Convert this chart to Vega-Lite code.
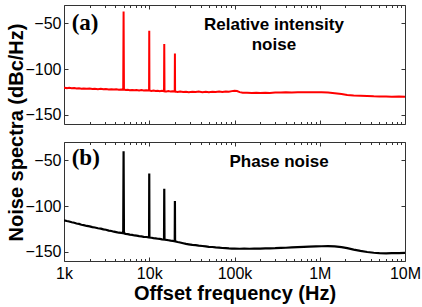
{
  "$schema": "https://vega.github.io/schema/vega-lite/v6.json",
  "padding": {"left": 5, "top": 4, "right": 0, "bottom": 0},
  "config": {
    "view": {"stroke": "#333", "strokeWidth": 1},
    "axis": {"domain": false, "grid": false, "labelFont": "Liberation Sans", "labelFontSize": 16, "labelColor": "#000", "titleFont": "Liberation Sans", "titleFontWeight": "bold", "titleFontSize": 20, "titleColor": "#000", "tickColor": "#333", "tickWidth": 1}
  },
  "datasets": {
    "rin": [
      {"f":1000,"v":-120.5},{"f":1080,"v":-120.8},{"f":1150,"v":-120.3},{"f":1230,"v":-121},{"f":1320,"v":-120.6},{"f":1400,"v":-121.2},{"f":1500,"v":-120.9},{"f":1600,"v":-121.4},{"f":1700,"v":-121.1},{"f":1850,"v":-121.6},{"f":2000,"v":-121.3},{"f":2150,"v":-121.8},{"f":2300,"v":-121.5},{"f":2500,"v":-121.9},{"f":2700,"v":-121.6},{"f":2900,"v":-122.1},{"f":3100,"v":-121.8},{"f":3350,"v":-122.3},{"f":3600,"v":-122},{"f":3850,"v":-122.4},{"f":4100,"v":-122.1},{"f":4400,"v":-122.6},{"f":4700,"v":-122.2},{"f":4950,"v":-122.5},{"f":5000,"v":-37},{"f":5050,"v":-122.4},{"f":5300,"v":-122.9},{"f":5600,"v":-122.5},{"f":5900,"v":-123.1},{"f":6300,"v":-122.8},{"f":6700,"v":-123.2},{"f":7100,"v":-122.9},{"f":7600,"v":-123.4},{"f":8100,"v":-123},{"f":8600,"v":-123.5},{"f":9200,"v":-123.1},{"f":9950,"v":-123.4},{"f":10000,"v":-58},{"f":10050,"v":-123.4},{"f":10600,"v":-123.8},{"f":11200,"v":-123.4},{"f":11900,"v":-124},{"f":12600,"v":-123.6},{"f":13300,"v":-124.1},{"f":14100,"v":-123.8},{"f":14900,"v":-124.2},{"f":15000,"v":-72.5},{"f":15100,"v":-124.1},{"f":15900,"v":-124.4},{"f":16800,"v":-124},{"f":17800,"v":-124.6},{"f":18800,"v":-124.2},{"f":19900,"v":-124.5},{"f":20000,"v":-83},{"f":20100,"v":-124.5},{"f":21500,"v":-124.9},{"f":23000,"v":-124.5},{"f":25000,"v":-125.1},{"f":27000,"v":-124.7},{"f":29000,"v":-125.2},{"f":32000,"v":-124.8},{"f":35000,"v":-125.1},{"f":38000,"v":-124.6},{"f":42000,"v":-125.2},{"f":46000,"v":-124.7},{"f":50000,"v":-125.3},{"f":55000,"v":-124.8},{"f":60000,"v":-125.1},{"f":66000,"v":-124.6},{"f":72000,"v":-125},{"f":79000,"v":-124.4},{"f":86000,"v":-124.8},{"f":93000,"v":-124.1},{"f":100000,"v":-123.6},{"f":107000,"v":-124},{"f":115000,"v":-125.2},{"f":125000,"v":-125.8},{"f":140000,"v":-125.9},{"f":160000,"v":-126.2},{"f":180000,"v":-125.9},{"f":200000,"v":-126.1},{"f":230000,"v":-125.8},{"f":260000,"v":-126.1},{"f":300000,"v":-125.7},{"f":350000,"v":-125.6},{"f":400000,"v":-125.4},{"f":470000,"v":-125.5},{"f":550000,"v":-125.3},{"f":650000,"v":-125.4},{"f":750000,"v":-125.2},{"f":900000,"v":-125.4},{"f":1050000,"v":-125.3},{"f":1250000,"v":-125.7},{"f":1500000,"v":-126.4},{"f":1800000,"v":-127.3},{"f":2100000,"v":-128.2},{"f":2500000,"v":-128.8},{"f":3000000,"v":-129.1},{"f":3600000,"v":-129.4},{"f":4300000,"v":-129.8},{"f":5000000,"v":-130},{"f":6000000,"v":-129.9},{"f":7000000,"v":-130.1},{"f":8500000,"v":-130},{"f":10000000,"v":-130.2}
    ],
    "pn": [
      {"f":1000,"v":-115.5},{"f":1080,"v":-116.3},{"f":1150,"v":-116.8},{"f":1230,"v":-117.7},{"f":1320,"v":-118.2},{"f":1400,"v":-119},{"f":1500,"v":-119.5},{"f":1600,"v":-120.4},{"f":1700,"v":-120.8},{"f":1850,"v":-121.7},{"f":2000,"v":-122.2},{"f":2150,"v":-123},{"f":2300,"v":-123.4},{"f":2500,"v":-124.2},{"f":2700,"v":-124.6},{"f":2900,"v":-125.5},{"f":3100,"v":-125.9},{"f":3350,"v":-126.8},{"f":3600,"v":-127.2},{"f":3850,"v":-128},{"f":4100,"v":-128.4},{"f":4400,"v":-129.1},{"f":4700,"v":-129.3},{"f":4950,"v":-129.6},{"f":5000,"v":-40},{"f":5050,"v":-129.8},{"f":5300,"v":-130.3},{"f":5600,"v":-130.6},{"f":5900,"v":-131.2},{"f":6300,"v":-131.5},{"f":6700,"v":-132.1},{"f":7100,"v":-132.3},{"f":7600,"v":-132.9},{"f":8100,"v":-133.1},{"f":8600,"v":-133.6},{"f":9200,"v":-133.8},{"f":9950,"v":-134.2},{"f":10000,"v":-64.5},{"f":10050,"v":-134.3},{"f":10600,"v":-134.6},{"f":11200,"v":-135},{"f":11900,"v":-135.3},{"f":12600,"v":-135.7},{"f":13300,"v":-135.9},{"f":14100,"v":-136.3},{"f":14900,"v":-136.5},{"f":15000,"v":-81},{"f":15100,"v":-136.6},{"f":15900,"v":-137},{"f":16800,"v":-137.3},{"f":17800,"v":-137.8},{"f":18800,"v":-138},{"f":19900,"v":-138.4},{"f":20000,"v":-94.5},{"f":20100,"v":-138.5},{"f":21500,"v":-139.2},{"f":23000,"v":-139.8},{"f":25000,"v":-140.6},{"f":27000,"v":-141.3},{"f":29000,"v":-141.8},{"f":32000,"v":-142.4},{"f":35000,"v":-142.7},{"f":38000,"v":-143.2},{"f":42000,"v":-143.6},{"f":46000,"v":-144.1},{"f":50000,"v":-144.5},{"f":55000,"v":-144.7},{"f":60000,"v":-145.2},{"f":66000,"v":-145.4},{"f":72000,"v":-145.8},{"f":79000,"v":-146},{"f":86000,"v":-146.3},{"f":93000,"v":-146.4},{"f":100000,"v":-146.5},{"f":115000,"v":-146.6},{"f":130000,"v":-146.5},{"f":150000,"v":-146.6},{"f":170000,"v":-146.4},{"f":200000,"v":-146.5},{"f":230000,"v":-146.3},{"f":260000,"v":-146.1},{"f":300000,"v":-146},{"f":350000,"v":-145.7},{"f":400000,"v":-145.5},{"f":470000,"v":-145.2},{"f":550000,"v":-144.9},{"f":650000,"v":-144.6},{"f":750000,"v":-144.4},{"f":900000,"v":-144.1},{"f":1050000,"v":-143.9},{"f":1250000,"v":-143.8},{"f":1500000,"v":-144.1},{"f":1800000,"v":-144.9},{"f":2100000,"v":-146},{"f":2500000,"v":-147.6},{"f":3000000,"v":-149},{"f":3600000,"v":-150.2},{"f":4300000,"v":-151},{"f":5000000,"v":-151.4},{"f":6000000,"v":-151.6},{"f":7000000,"v":-151.5},{"f":8500000,"v":-151.3},{"f":10000000,"v":-151.2}
    ]
  },
  "bounds": "flush",
  "spacing": 18,
  "vconcat": [
    {
      "width": 341,
      "height": 119,
      "layer": [
        {
          "data": {"name": "rin"},
          "mark": {"type": "line", "color": "#ff0000", "strokeWidth": 2, "clip": true},
          "encoding": {
            "x": {"field": "f", "type": "quantitative", "scale": {"type": "log", "domain": [1000, 10000000], "nice": false},
              "axis": {"orient": "bottom", "values": [1000,2000,3000,4000,5000,6000,7000,8000,9000,10000,20000,30000,40000,50000,60000,70000,80000,90000,100000,200000,300000,400000,500000,600000,700000,800000,900000,1000000,2000000,3000000,4000000,5000000,6000000,7000000,8000000,9000000,10000000],
                "labels": false, "title": null,
                "tickSize": {"condition": {"test": "indexof([1000,10000,100000,1000000,10000000], datum.value) >= 0", "value": -4}, "value": -2.5}}},
            "y": {"field": "v", "type": "quantitative", "scale": {"domain": [-160, -30], "nice": false, "zero": false},
              "axis": {"orient": "left", "values": [-150, -100, -50], "tickSize": -4, "labelPadding": 7,
                "title": "Noise spectra (dBc/Hz)", "titleAngle": -90, "titleX": -42, "titleY": 127, "titleAlign": "center", "titleBaseline": "alphabetic"}}
          }
        },
        {
          "data": {"values": [{"f": 1231, "v": -57.3, "t": "(a)"}]},
          "mark": {"type": "text", "font": "Liberation Serif", "fontWeight": "bold", "fontSize": 23, "align": "left", "baseline": "alphabetic", "color": "#000"},
          "encoding": {
            "x": {"field": "f", "type": "quantitative",
              "axis": {"orient": "top", "values": [1000,2000,3000,4000,5000,6000,7000,8000,9000,10000,20000,30000,40000,50000,60000,70000,80000,90000,100000,200000,300000,400000,500000,600000,700000,800000,900000,1000000,2000000,3000000,4000000,5000000,6000000,7000000,8000000,9000000,10000000],
                "labels": false, "title": null,
                "tickSize": {"condition": {"test": "indexof([1000,10000,100000,1000000,10000000], datum.value) >= 0", "value": -4}, "value": -2.5}}},
            "y": {"field": "v", "type": "quantitative",
              "axis": {"orient": "right", "values": [-150, -100, -50], "tickSize": -4, "labels": false, "title": null}},
            "text": {"field": "t"}
          }
        },
        {
          "data": {"values": [{"f": 290000, "v": -57.3, "t": "Relative intensity\nnoise"}]},
          "mark": {"type": "text", "font": "Liberation Sans", "fontWeight": "bold", "fontSize": 17, "align": "center", "baseline": "alphabetic", "lineBreak": "\n", "lineHeight": 20, "color": "#000"},
          "encoding": {
            "x": {"field": "f", "type": "quantitative", "axis": null},
            "y": {"field": "v", "type": "quantitative", "axis": null},
            "text": {"field": "t"}
          }
        }
      ],
      "resolve": {"axis": {"x": "independent", "y": "independent"}}
    },
    {
      "width": 341,
      "height": 119,
      "layer": [
        {
          "data": {"name": "pn"},
          "mark": {"type": "line", "color": "#000000", "strokeWidth": 2.2, "clip": true},
          "encoding": {
            "x": {"field": "f", "type": "quantitative", "scale": {"type": "log", "domain": [1000, 10000000], "nice": false},
              "axis": {"orient": "bottom", "values": [1000,2000,3000,4000,5000,6000,7000,8000,9000,10000,20000,30000,40000,50000,60000,70000,80000,90000,100000,200000,300000,400000,500000,600000,700000,800000,900000,1000000,2000000,3000000,4000000,5000000,6000000,7000000,8000000,9000000,10000000],
                "labelExpr": "datum.value == 1000 ? '1k' : datum.value == 10000 ? '10k' : datum.value == 100000 ? '100k' : datum.value == 1000000 ? '1M' : datum.value == 10000000 ? '10M' : ''",
                "labelFlush": false, "labelOverlap": false, "labelPadding": 8,
                "title": "Offset frequency (Hz)", "titleY": 38, "titleBaseline": "alphabetic",
                "tickSize": {"condition": {"test": "indexof([1000,10000,100000,1000000,10000000], datum.value) >= 0", "value": -4}, "value": -2.5}}},
            "y": {"field": "v", "type": "quantitative", "scale": {"domain": [-160, -30], "nice": false, "zero": false},
              "axis": {"orient": "left", "values": [-150, -100, -50], "tickSize": -4, "labelPadding": 7, "title": null}}
          }
        },
        {
          "data": {"values": [{"f": 1231, "v": -55.5, "t": "(b)"}]},
          "mark": {"type": "text", "font": "Liberation Serif", "fontWeight": "bold", "fontSize": 23, "align": "left", "baseline": "alphabetic", "color": "#000"},
          "encoding": {
            "x": {"field": "f", "type": "quantitative",
              "axis": {"orient": "top", "values": [1000,2000,3000,4000,5000,6000,7000,8000,9000,10000,20000,30000,40000,50000,60000,70000,80000,90000,100000,200000,300000,400000,500000,600000,700000,800000,900000,1000000,2000000,3000000,4000000,5000000,6000000,7000000,8000000,9000000,10000000],
                "labels": false, "title": null,
                "tickSize": {"condition": {"test": "indexof([1000,10000,100000,1000000,10000000], datum.value) >= 0", "value": -4}, "value": -2.5}}},
            "y": {"field": "v", "type": "quantitative",
              "axis": {"orient": "right", "values": [-150, -100, -50], "tickSize": -4, "labels": false, "title": null}},
            "text": {"field": "t"}
          }
        },
        {
          "data": {"values": [{"f": 333000, "v": -57.7, "t": "Phase noise"}]},
          "mark": {"type": "text", "font": "Liberation Sans", "fontWeight": "bold", "fontSize": 17, "align": "center", "baseline": "alphabetic", "color": "#000"},
          "encoding": {
            "x": {"field": "f", "type": "quantitative", "axis": null},
            "y": {"field": "v", "type": "quantitative", "axis": null},
            "text": {"field": "t"}
          }
        }
      ],
      "resolve": {"axis": {"x": "independent", "y": "independent"}}
    }
  ]
}
